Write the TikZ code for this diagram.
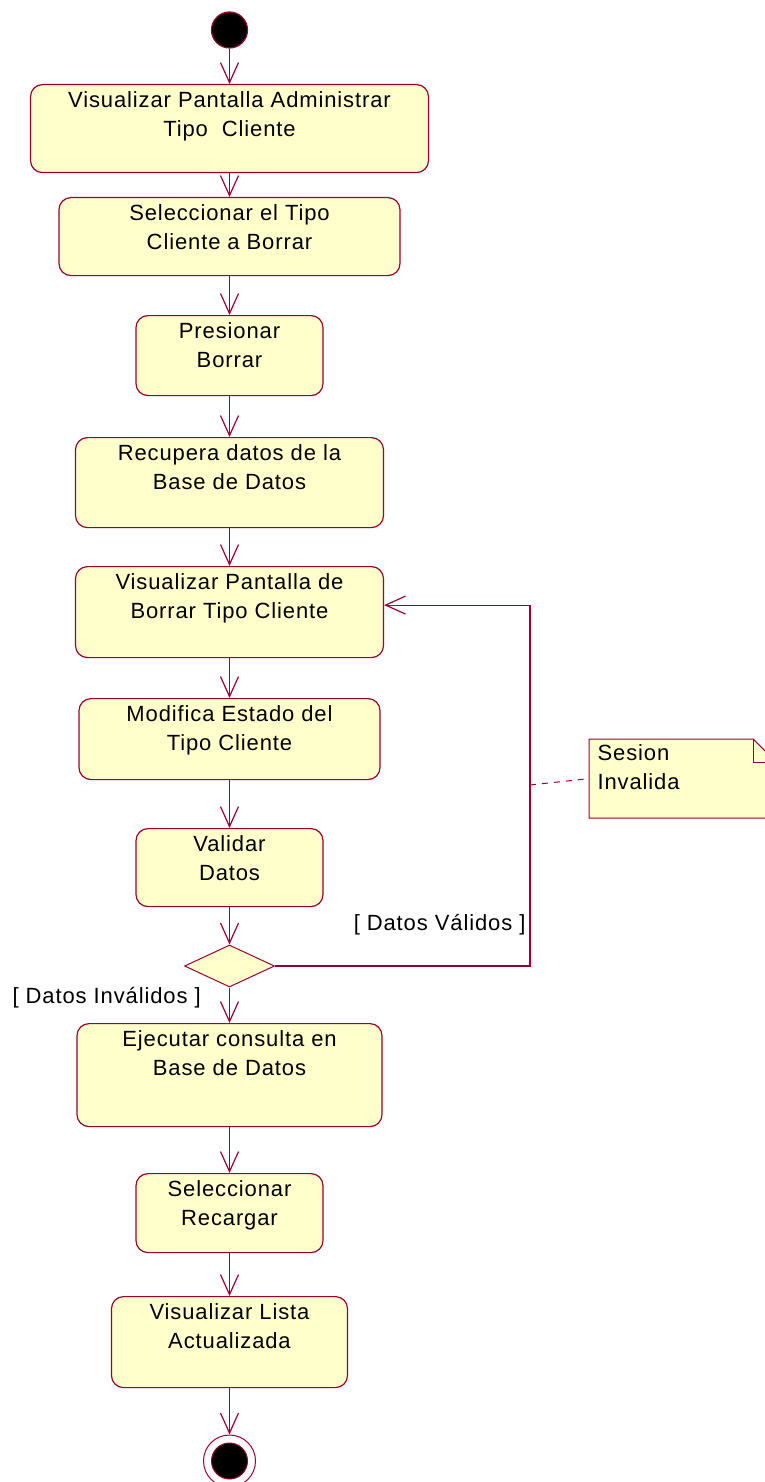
\documentclass[tikz,border=0pt]{standalone}
\usepackage{fontspec}
\setmainfont{Liberation Sans}[LetterSpace=4]
\usetikzlibrary{arrows.meta,shapes.geometric,backgrounds}
\definecolor{rosered}{RGB}{153,0,51}
\definecolor{roseyellow}{RGB}{255,255,204}
\newcommand{\acttext}[3]{\parbox[t][#2][t]{#1}{\centering\vspace*{7pt}#3}}
\newcommand{\notetext}[3]{\parbox[t][#2][t]{#1}{\raggedright\leftskip=8pt\vspace*{5pt}#3}}

\begin{document}
\begin{tikzpicture}[x=1pt,y=-1pt,line width=1.2pt,
  font=\fontsize{22}{29}\selectfont,
  >={Straight Barb[length=20pt,width=18pt]},
  act/.style={draw=rosered,fill=roseyellow,rounded corners=12pt,inner sep=0pt,anchor=north},
  flow/.style={->,draw=rosered},
  guard/.style={inner sep=0pt}]
\useasboundingbox (0,0) rectangle (765,1482);
% start and activities
\node[circle,fill=black,draw=rosered,minimum size=36pt,inner sep=0pt] (start) at (229.5,30) {};
\node[act] (a1) at (229.5,84) {\acttext{398pt}{88pt}{Visualizar Pantalla Administrar\\Tipo\ \ Cliente}};
\node[act] (a2) at (229.5,197) {\acttext{341pt}{78pt}{Seleccionar el Tipo\\ Cliente a Borrar}};
\node[act] (a3) at (229.5,315) {\acttext{187pt}{80pt}{Presionar\\ Borrar}};
\node[act] (a4) at (229.5,437) {\acttext{308pt}{90pt}{Recupera datos de la\\Base de Datos}};
\node[act] (a5) at (229.5,566) {\acttext{308pt}{91pt}{Visualizar Pantalla de\\Borrar Tipo Cliente}};
\node[act] (a6) at (229.5,698) {\acttext{301pt}{81pt}{Modifica Estado del\\Tipo Cliente}};
\node[act] (a7) at (229.5,828) {\acttext{187pt}{78pt}{Validar\\ Datos}};
\node[diamond,draw=rosered,fill=roseyellow,line width=1pt,minimum width=90pt,minimum height=42pt,inner sep=0pt] (dec) at (229.5,966) {};
\node[act] (a8) at (229.5,1023) {\acttext{305pt}{103pt}{Ejecutar consulta en\\Base de Datos}};
\node[act] (a9) at (229.5,1173) {\acttext{187pt}{79pt}{Seleccionar\\ Recargar}};
\node[act] (a10) at (229.5,1296) {\acttext{236pt}{91pt}{Visualizar Lista\\ Actualizada}};
\node[circle,draw=rosered,fill=white,line width=1pt,minimum size=52pt,inner sep=0pt] (stop) at (229.5,1461) {};
\filldraw[draw=rosered,fill=black,line width=1pt] (stop.center) circle (18pt);
% note
\node[inner sep=0pt,anchor=north west] (note) at (589,739) {\notetext{186pt}{78pt}{Sesion\\Invalida}};
\begin{scope}[on background layer]
\draw[rosered,fill=roseyellow,line width=1pt] (note.north west) -- ([xshift=-23pt]note.north east)
  -- ([yshift=-23pt]note.north east) -- (note.south east) -- (note.south west) -- cycle;
\draw[rosered,line width=1pt] ([xshift=-23pt]note.north east) |- ([yshift=-23pt]note.north east);
\end{scope}
% flows
\draw[flow] (start) -- (a1);
\draw[flow] (a1) -- (a2);
\draw[flow] (a2) -- (a3);
\draw[flow] (a3) -- (a4);
\draw[flow] (a4) -- (a5);
\draw[flow] (a5) -- (a6);
\draw[flow] (a6) -- (a7);
\draw[flow] (a7) -- (dec);
\draw[flow] (dec) -- (a8);
\draw[flow] (a8) -- (a9);
\draw[flow] (a9) -- (a10);
\draw[flow] (a10) -- (stop);
\coordinate (bend) at (530,966);
\draw[flow] (dec.east) -- (bend) |- ([yshift=7pt]a5.east);
\coordinate (tap) at (530,785);
\draw[rosered,line width=1pt,dash pattern=on 6pt off 6pt] (tap) -- (note.west);
% guards
\node[guard,anchor=east] (gv) at (526,925) {[ Datos Válidos ]};
\node[guard,anchor=west] (gi) at (12,998) {[ Datos Inválidos ]};
\end{tikzpicture}
\end{document}
